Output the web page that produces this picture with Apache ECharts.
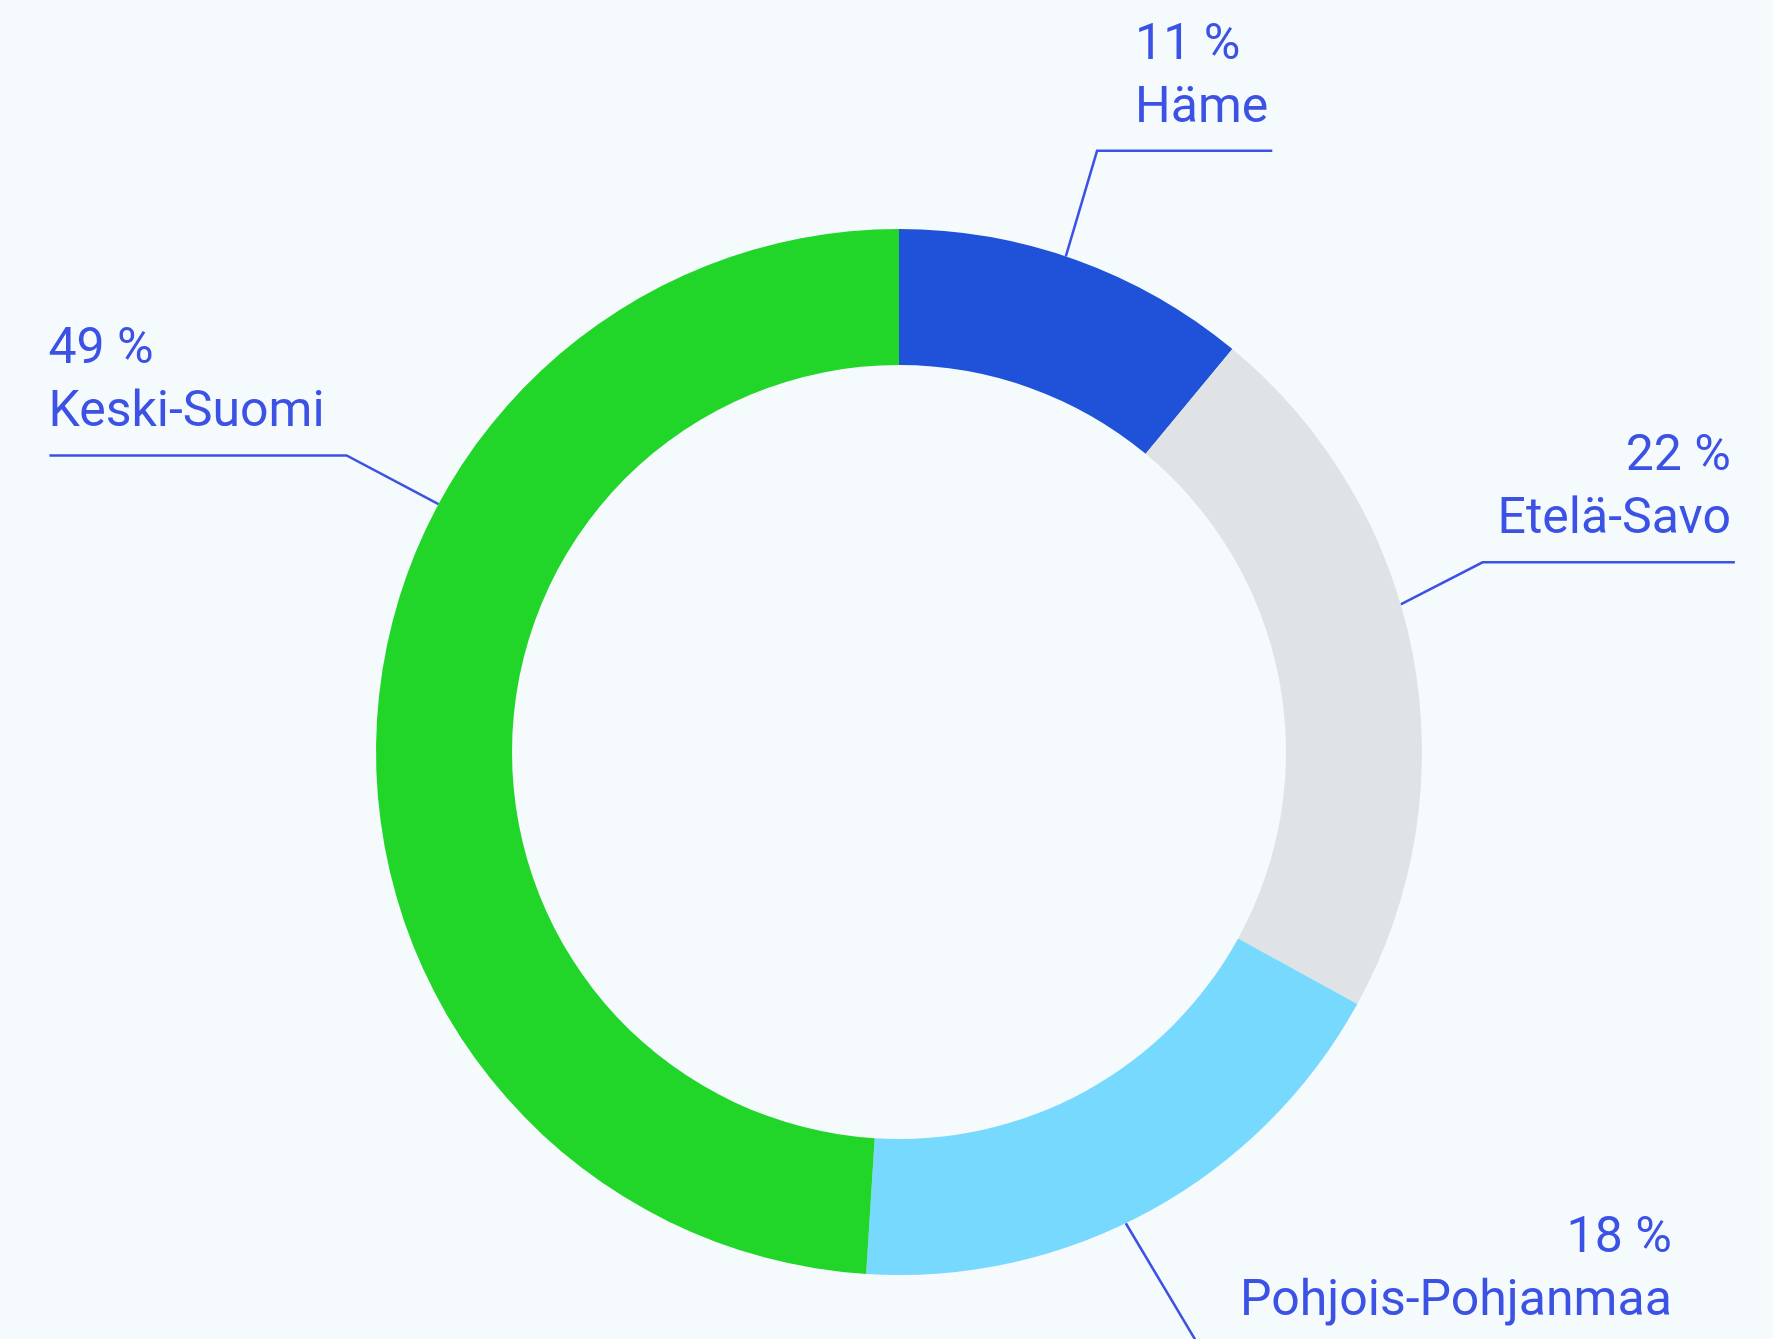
<!DOCTYPE html>
<html>
<head>
<meta charset="utf-8">
<title>Alueet</title>
<script src="https://cdn.jsdelivr.net/npm/echarts@6/dist/echarts.min.js"></script>
<style>
  html, body { margin: 0; padding: 0; background: #f5fafd; }
  #main { width: 1773px; height: 1339px; }
</style>
</head>
<body>
<div id="main"></div>
<script>
// data
var regions = ['Häme', 'Etelä-Savo', 'Pohjois-Pohjanmaa', 'Keski-Suomi'];
var shares = [11, 22, 18, 49];
var sliceColors = ['#1f52d8', '#dfe3e6', '#77d9fe', '#22d629'];

// donut geometry
var cx = 899, cy = 752;
var rOuter = 523, rInner = 387;

// where each label line leaves the ring (deg clockwise from top), its direction, length,
// gap between the corner and the text, and how the text lines are aligned
var labelPlace = [
  { at: 18.6, dir: 16.5, len: 110, gap: 38, align: 'left' },
  { at: 73.6, dir: 62.8, len: 92, gap: 15, align: 'right' },
  { at: 154.3, dir: 149.2, len: 141, gap: 42, align: 'right' },
  { at: 298.3, dir: 297.9, len: 104, gap: 22, align: 'left' }
];

var textColor = '#3c52e4';

function rad(d) { return d * Math.PI / 180; }

var pieData = [];
for (var i = 0; i < regions.length; i++) {
  pieData.push({ name: regions[i], value: shares[i], itemStyle: { color: sliceColors[i] } });
}

var chart = echarts.init(document.getElementById('main'), null, { renderer: 'canvas' });

chart.setOption({
  backgroundColor: '#f5fafd',
  animation: false,
  series: [{
    type: 'pie',
    center: [cx, cy],
    radius: [rInner, rOuter],
    startAngle: 90,
    clockwise: true,
    avoidLabelOverlap: false,
    silent: true,
    data: pieData,
    label: {
      show: true,
      position: 'outside',
      formatter: '{c} %\n{b}',
      color: textColor,
      fontFamily: 'Roboto',
      fontSize: 50,
      lineHeight: 63
    },
    labelLine: {
      show: true,
      length: 80,
      length2: 100,
      smooth: false,
      lineStyle: { color: textColor, width: 2.5 }
    },
    // put the text on top of the horizontal part of the line, line runs under the text
    labelLayout: function (params) {
      var p = labelPlace[params.dataIndex];
      var sx = cx + rOuter * Math.sin(rad(p.at));
      var sy = cy - rOuter * Math.cos(rad(p.at));
      var kx = sx + p.len * Math.sin(rad(p.dir));
      var ky = sy - p.len * Math.cos(rad(p.dir));
      var w = params.labelRect.width;
      var rightSide = kx > cx;
      var textLeft = rightSide ? kx + p.gap : kx - p.gap - w;
      var textRight = textLeft + w;
      var endX = rightSide ? textRight + 4 : textLeft + 1;
      return {
        x: p.align === 'left' ? textLeft : textRight,
        y: ky - 10,
        align: p.align,
        verticalAlign: 'bottom',
        labelLinePoints: [[sx, sy], [kx, ky], [endX, ky]]
      };
    }
  }]
});
</script>
</body>
</html>
